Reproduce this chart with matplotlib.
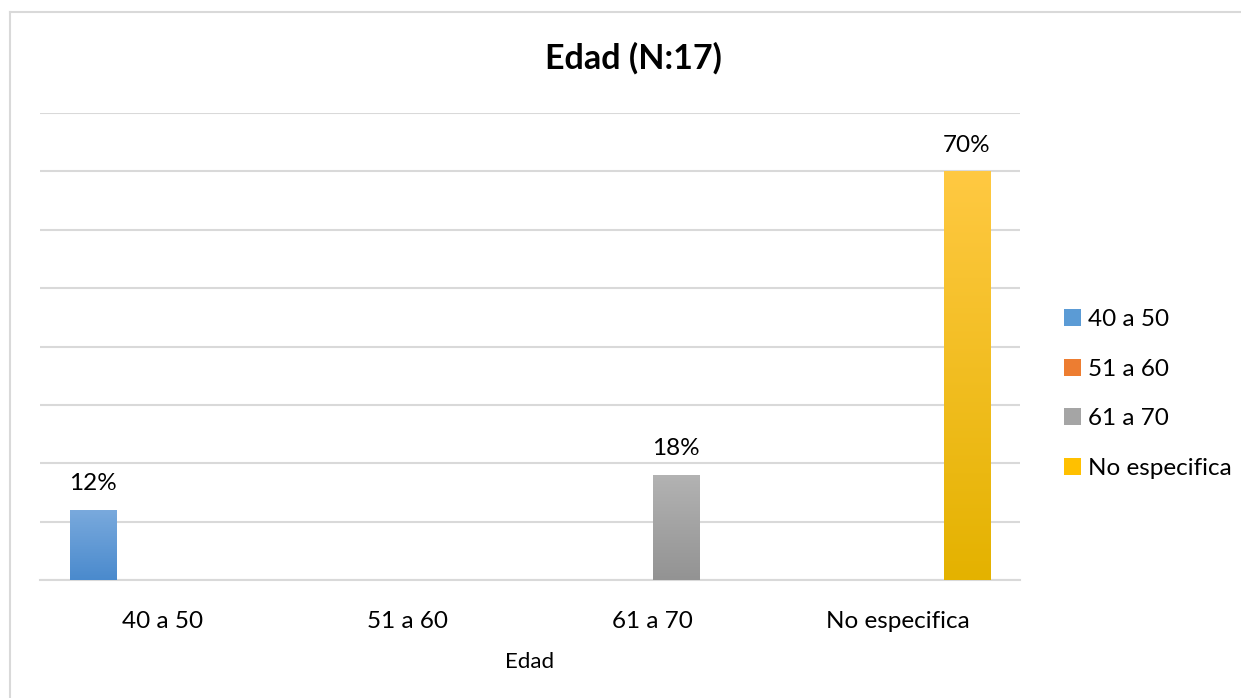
import numpy as np
import matplotlib
matplotlib.use("Agg")
import matplotlib.pyplot as plt
from matplotlib.colors import LinearSegmentedColormap
from matplotlib.patches import Patch
from matplotlib.lines import Line2D

plt.rcParams['font.family'] = ['Lato', 'DejaVu Sans']

# data
categories = ["40 a 50", "51 a 60", "61 a 70", "No especifica"]
values = [0.12, 0.0, 0.18, 0.70]
series_names = ["40 a 50", "51 a 60", "61 a 70", "No especifica"]
grad_top = ["#7aaadd", "#f4935a", "#b3b3b3", "#ffc942"]
grad_bottom = ["#4a8acd", "#e06a1f", "#939393", "#e4b200"]
legend_colors = ["#5b9bd5", "#ed7d31", "#a5a5a5", "#ffc000"]

fig = plt.figure(figsize=(12.41, 6.98), dpi=100)
ax = fig.add_axes([40 / 1241, 1 - 580 / 698, 980 / 1241, (580 - 113) / 698])

# chart border (top and left edges only are visible)
bx, by = 10 / 1241, 1 - 12 / 698
fig.lines.append(Line2D([bx, 1], [by, by], transform=fig.transFigure,
                        color="#d9d9d9", linewidth=1.5))
fig.lines.append(Line2D([bx, bx], [0, by], transform=fig.transFigure,
                        color="#d9d9d9", linewidth=1.5))

w = 0.188
x = np.arange(len(categories))
for i, v in enumerate(values):
    xpos = x[i] + (i - 1.5) * w
    bars = ax.bar(xpos, v, width=w, color=legend_colors[i], zorder=3)
    if v > 0:
        bar = bars[0]
        cmap = LinearSegmentedColormap.from_list("g", [grad_bottom[i], grad_top[i]])
        grad = np.linspace(0, 1, 256).reshape(-1, 1)
        im = ax.imshow(grad, cmap=cmap, aspect="auto", origin="lower",
                       extent=[xpos - w / 2, xpos + w / 2, 0, v], zorder=4)
        im.set_clip_path(bar)
        ax.text(xpos, v + 0.027, f"{v * 100:.0f}%", ha="center", va="bottom",
                fontsize=17.5, color="#000000", zorder=5)

ax.set_xlim(-0.5, 3.5)
ax.set_ylim(0, 0.8)
ax.set_yticks(np.arange(0, 0.81, 0.1))
ax.yaxis.grid(True, color="#d9d9d9", linewidth=1.5, zorder=0)
ax.set_yticklabels([])
ax.tick_params(axis="y", length=0)
ax.set_xticks(x)
ax.set_xticklabels(categories, fontsize=17.5, color="#000000")
ax.tick_params(axis="x", length=0, pad=22)
for s in ["top", "right", "left"]:
    ax.spines[s].set_visible(False)
ax.spines["bottom"].set_color("#d9d9d9")
ax.spines["bottom"].set_linewidth(1.5)
ax.set_axisbelow(True)

ax.set_xlabel("Edad", fontsize=16, labelpad=15)

fig.text(633 / 1241, 1 - 58 / 698, "Edad (N:17)", ha="center", va="center",
         fontsize=24.5, fontweight="bold")

handles = [Patch(facecolor=c, edgecolor="none") for c in legend_colors]
fig.legend(handles, series_names, loc="center left",
           bbox_to_anchor=(1042 / 1241, 1 - 394 / 698), frameon=False,
           fontsize=17.5, handlelength=0.7, handleheight=0.7,
           handletextpad=0.3, labelspacing=1.17)

fig.savefig("out.png", dpi=100)
